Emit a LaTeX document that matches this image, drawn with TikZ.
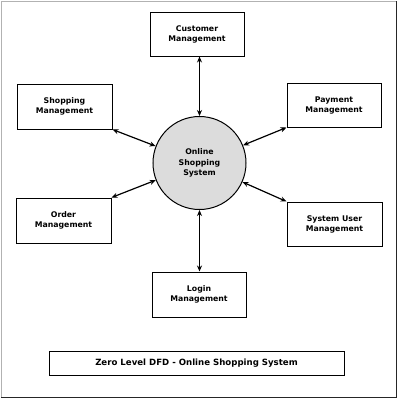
\documentclass[tikz,border=0pt]{standalone}
\usepackage{fontspec}
\newfontfamily\dvs{DejaVu Sans}
\usetikzlibrary{arrows.meta}
\definecolor{circfill}{RGB}{220,220,220}
\tikzset{
  entity/.style={draw=black, line width=1pt, fill=white, minimum width=94pt, minimum height=44pt, align=center, inner sep=0pt,
    font={\dvs\bfseries\fontsize{7.8}{10}\selectfont}},
  process/.style={draw=black, line width=1pt, fill=circfill, circle, minimum size=93pt, align=center, inner sep=0pt,
    font={\dvs\bfseries\fontsize{7.8}{10.3}\selectfont}},
  titlebox/.style={draw=black, line width=1pt, fill=white, minimum width=295pt, minimum height=24pt, inner sep=0pt,
    font={\dvs\bfseries\fontsize{8.6}{10}\selectfont}},
  flow/.style={line width=1.2pt, {Stealth[length=6pt,width=5pt]}-{Stealth[length=6pt,width=5pt]}}
}
\begin{document}
\begin{tikzpicture}[x=1pt,y=-1pt]
\useasboundingbox (0,0) rectangle (400,400);
\fill[white] (0,0) rectangle (400,400);
\draw[gray!60, line width=0.8pt] (1,397.5) -- (1,1) -- (396.5,1);
\draw[black!85, line width=1.5pt] (1,397.5) -- (396.5,397.5) -- (396.5,1);

\node[process] (sys) at (199.5,163) {Online\\Shopping\\System};
\node[entity] (cust) at (197,34) {Customer\\Management};
\node[entity, minimum width=95pt, minimum height=45pt] (shop) at (64.5,106.5) {Shopping\\Management};
\node[entity] (pay) at (334,105) {Payment\\Management};
\node[entity, minimum width=95pt, minimum height=45pt] (order) at (63.5,220.5) {Order\\Management};
\node[entity, minimum width=95pt] (user) at (334.5,224) {System User\\Management};
\node[entity, minimum height=45pt] (login) at (199,294.5) {Login\\Management};
\node[titlebox] (title) at (196.5,363) {Zero Level DFD - Online Shopping System};

\draw[flow] (sys.north |- cust.south) -- (sys.north);
\draw[flow] (shop.south east) -- (sys);
\draw[flow] (pay.south west) -- (sys);
\draw[flow] (order.north east) -- (sys);
\draw[flow] (user.north west) -- (sys);
\draw[flow] (sys.south) -- (sys.south |- login.north);
\end{tikzpicture}
\end{document}
